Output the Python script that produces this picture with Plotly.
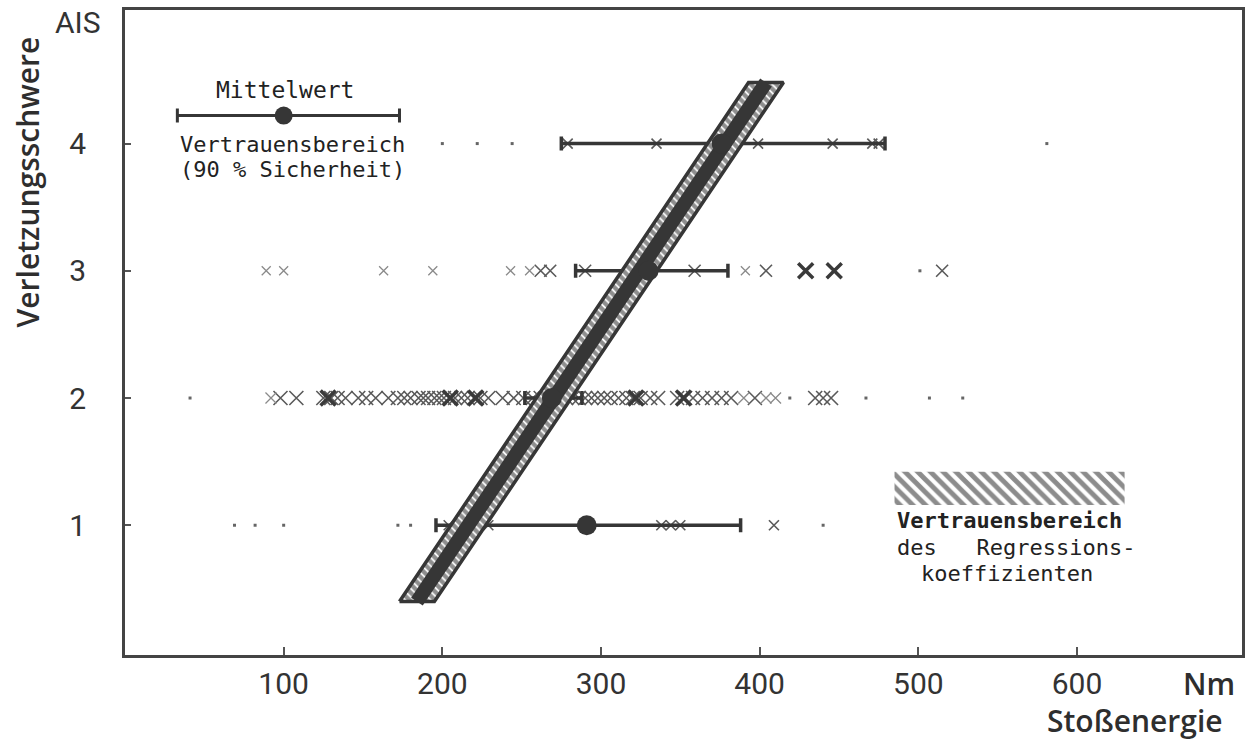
import plotly.graph_objects as go

# ---------------- data ----------------
ais_levels = [1, 2, 3, 4]
x_ticks = [100, 200, 300, 400, 500, 600]

# mean impact energy per AIS class and 90 % confidence interval
mean_x = [291, 269, 330, 376]
ci_low = [196, 252, 284, 275]
ci_high = [388, 288, 380, 479]

# individual tests (impact energy in Nm)
ais1_cross = [204, 229, 338, 344, 350, 409]
ais1_dot = [69, 82, 100, 172, 180, 440]

ais2_cross = [98, 108, 125, 130, 134, 139, 147, 152, 158, 166, 172, 176, 180,
              185, 188, 191, 195, 198, 201, 205, 208, 212, 216, 220, 224, 229, 238,
              245, 251, 257, 262, 266, 278, 282, 286, 290, 294, 298, 302, 306, 311,
              316, 320, 325, 331, 336, 348, 353, 358, 364, 370, 376, 382, 397,
              435, 440, 445]
ais2_bold = [128, 205, 221, 322, 352]
ais2_faint = [92, 390, 404, 410]
ais2_dot = [41, 419, 467, 507, 528]

ais3_cross = [262, 268, 290, 359, 404, 515]
ais3_bold = [429, 447]
ais3_faint = [89, 100, 163, 194, 243, 255, 391]
ais3_dot = [501]

ais4_cross = [279, 335, 399, 446, 471, 475]
ais4_dot = [200, 222, 244, 581]

# regression line (end points) and half-width of its confidence band (Nm)
reg_x = [184, 404]
reg_y = [0.40, 4.48]
band_half = 11

# legend key values
key_mean, key_low, key_high, key_y = 100, 33, 173, 4.22
hatch_x = [485, 630, 630, 485, 485]
hatch_y = [1.16, 1.16, 1.42, 1.42, 1.16]

# ---------------- figure ----------------
DARK = "#363636"
fig = go.Figure()


def add_marks(vals, level, symbol, size, color, width=1.6):
    fig.add_trace(go.Scatter(
        x=vals, y=[level] * len(vals), mode="markers", hoverinfo="skip",
        marker=dict(symbol=symbol, size=size, color=color,
                    line=dict(width=width, color=color))))


add_marks(ais2_cross, 2, "x-thin-open", 14, "#5a5a5a")
add_marks(ais3_cross, 3, "x-thin-open", 12, "#5a5a5a")
add_marks(ais1_cross, 1, "x-thin-open", 10, "#5a5a5a")
add_marks(ais4_cross, 4, "x-thin-open", 10, "#5a5a5a")
add_marks(ais2_faint, 2, "x-thin-open", 11, "#8a8a8a", 1.3)
add_marks(ais3_faint, 3, "x-thin-open", 9, "#8a8a8a", 1.3)
add_marks(ais2_bold, 2, "x-thin-open", 15, "#3a3a3a", 3.5)
add_marks(ais3_bold, 3, "x-thin-open", 15, "#3a3a3a", 3.5)
for vals, lvl in [(ais1_dot, 1), (ais2_dot, 2), (ais3_dot, 3), (ais4_dot, 4)]:
    fig.add_trace(go.Scatter(x=vals, y=[lvl] * len(vals), mode="markers",
                             hoverinfo="skip",
                             marker=dict(symbol="square", size=3, color="#666666")))

# confidence intervals of the class means
fig.add_trace(go.Scatter(
    x=mean_x, y=ais_levels, mode="markers", hoverinfo="skip",
    marker=dict(size=1, color=DARK),
    error_x=dict(type="data", symmetric=False,
                 array=[h - m for h, m in zip(ci_high, mean_x)],
                 arrayminus=[m - l for m, l in zip(mean_x, ci_low)],
                 color=DARK, thickness=3.5, width=7)))

# regression confidence band (hatched) and regression line
bx = [reg_x[0] - band_half, reg_x[1] - band_half, reg_x[1] + band_half,
      reg_x[0] + band_half, reg_x[0] - band_half]
by = [reg_y[0], reg_y[1], reg_y[1], reg_y[0], reg_y[0]]
fig.add_trace(go.Scatter(
    x=bx, y=by, mode="lines", fill="toself", hoverinfo="skip",
    line=dict(color=DARK, width=3.5),
    fillcolor="white",
    fillpattern=dict(shape="\\", fgcolor="#1e1e1e", bgcolor="white", size=6, solidity=0.7)))
fig.add_trace(go.Scatter(x=reg_x, y=reg_y, mode="lines", hoverinfo="skip",
                         line=dict(color=DARK, width=14)))

# class means
fig.add_trace(go.Scatter(x=mean_x, y=ais_levels, mode="markers", hoverinfo="skip",
                         marker=dict(size=20, color=DARK)))

# legend key: mean with confidence interval
fig.add_trace(go.Scatter(
    x=[key_mean], y=[key_y], mode="markers", hoverinfo="skip",
    marker=dict(size=18, color=DARK),
    error_x=dict(type="data", symmetric=False, array=[key_high - key_mean],
                 arrayminus=[key_mean - key_low], color=DARK, thickness=3, width=7)))

# legend key: hatched swatch
fig.add_trace(go.Scatter(
    x=hatch_x, y=hatch_y, mode="lines", fill="toself", hoverinfo="skip",
    line=dict(width=0, color="rgba(0,0,0,0)"), fillcolor="white",
    fillpattern=dict(shape="\\", fgcolor="#1a1a1a", bgcolor="white", size=9, solidity=0.55)))

MONO = "DejaVu Sans Mono"
SANS = "Roboto"
TITLE = "Open Sans"
ann = [
    dict(text="Verletzungsschwere", x=-0.087, y=0.734, textangle=-90,
         font=dict(family=TITLE, size=30, color="#2e2e2e", weight=600)),
    dict(text="AIS", x=-0.042, y=0.981, font=dict(family=SANS, size=30, color="#333")),
    dict(text="Nm", x=0.9705, y=-0.0434, height=30,
         font=dict(family=TITLE, size=30, color="#2e2e2e", weight=600)),
    dict(text="Stoßenergie", x=0.904, y=-0.1023,
         font=dict(family=TITLE, size=30, color="#2e2e2e", weight=600)),
    dict(text="Mittelwert", x=0.1429, y=0.876, font=dict(family=MONO, size=23, color="#222")),
    dict(text="Vertrauensbereich", x=0.0473, y=0.7907, xanchor="left",
         font=dict(family=MONO, size=22, color="#222")),
    dict(text="(90 % Sicherheit)", x=0.0473, y=0.752, xanchor="left",
         font=dict(family=MONO, size=22, color="#222")),
    dict(text="Vertrauensbereich", x=0.689, y=0.2093, xanchor="left",
         font=dict(family=MONO, size=22, color="#222", weight="bold")),
    dict(text="des\u00a0\u00a0\u00a0Regressions-", x=0.689, y=0.1674, xanchor="left",
         font=dict(family=MONO, size=22, color="#222")),
    dict(text="koeffizienten", x=0.790, y=0.127,
         font=dict(family=MONO, size=22, color="#222")),
]
for a in ann:
    a.setdefault("xanchor", "center")
    a.setdefault("yanchor", "middle")
    a.update(xref="paper", yref="paper", showarrow=False)

fig.update_layout(
    width=1252, height=740,
    margin=dict(l=125, r=7, t=10, b=85),
    paper_bgcolor="white", plot_bgcolor="white",
    showlegend=False,
    annotations=ann,
    xaxis=dict(range=[0, 704], tickvals=x_ticks, ticks="inside", ticklen=8,
               tickwidth=2, tickcolor="#555", showgrid=False, zeroline=False,
               showline=True, linewidth=3, linecolor="#444", mirror=True,
               ticklabelstandoff=0,
               tickfont=dict(family=SANS, size=30, color="#333")),
    yaxis=dict(range=[-0.02, 5.05], tickvals=ais_levels, ticks="inside", ticklen=6,
               tickwidth=2, tickcolor="#555", showgrid=False, zeroline=False,
               showline=True, linewidth=3, linecolor="#444", mirror=True,
               ticklabelstandoff=30,
               tickfont=dict(family=SANS, size=30, color="#333")),
)

fig.write_html("out.html")
